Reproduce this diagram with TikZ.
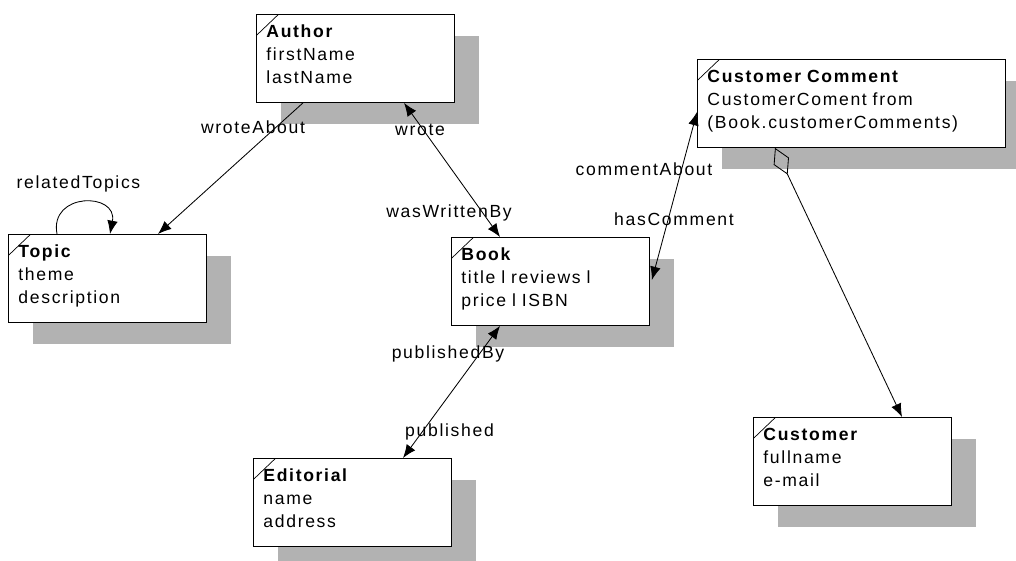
\documentclass[tikz,border=0pt]{standalone}
\usepackage{fontspec}
\setmainfont{Liberation Sans}[LetterSpace=9.5, WordSpace=1.5]
\usetikzlibrary{arrows.meta, shadows, calc}

\begin{document}
\begin{tikzpicture}[
    x=0.025cm, y=-0.025cm,
    font=\fontsize{12.5pt}{16.4pt}\selectfont,
    >={Latex[length=9.5pt,width=7.5pt]},
    class/.style  = {rectangle, draw, line width=0.6pt, fill=white,
                     anchor=north west, align=left,
                     text width=4.45cm, minimum width=4.95cm,
                     inner xsep=0.25cm, inner ysep=0.25cm,
                     text height=0.33cm, text depth=1.37cm,
                     drop shadow={shadow xshift=0.625cm, shadow yshift=-0.55cm,
                                  fill=black!30, opacity=1},
                     path picture={\draw[line width=0.5pt]
                       ($(path picture bounding box.north west)+(0,21)$) -- ++(22,-21);}},
    wideclass/.style = {class, text width=7.2cm, minimum width=7.7cm},
    link/.style   = {line width=0.6pt},
    lbl/.style    = {anchor=base, inner sep=0pt}
  ]
  \useasboundingbox (0,0) rectangle (1016,560);

  % ── Classes ─────────────────────────────────────────────────
  \node[class]     (author)      at (256,14)  {\textbf{Author}\\firstName\\lastName};
  \node[class]     (topic)       at (8,234)   {\textbf{Topic}\\theme\\description};
  \node[class]     (book)        at (451,237) {\textbf{Book}\\title l reviews l\\price l ISBN};
  \node[wideclass] (custcomment) at (697,59)  {\textbf{Customer Comment}\\CustomerComent from\\(Book.customerComments)};
  \node[class]     (editorial)   at (253,458) {\textbf{Editorial}\\name\\address};
  \node[class]     (customer)    at (753,417) {\textbf{Customer}\\fullname\\e-mail};

  % ── Associations ────────────────────────────────────────────

  % Topic self
  \draw[link, ->] ($(topic.north west)+(49,0)$) .. controls +(-8,-42) and +(8,-42) ..
    ($(topic.north west)+(102,0)$);

  % Author -> Topic
  \draw[link, ->] ($(author.south west)+(47,0)$) -- ($(topic.north west)+(150,0)$);

  % Author <-> Book
  \draw[link, <->] ($(author.south west)+(148,0)$) -- ($(book.north west)+(49,0)$);

  % Book <-> Customer Comment
  \draw[link, <->] ($(book.north east)+(2,43)$) -- ($(custcomment.north west)+(0,53)$);

  % Book <-> Editorial
  \draw[link, <->] ($(book.south west)+(49,0)$) -- ($(editorial.north west)+(150,0)$);

  % Customer Comment -> Customer (aggregation)
  \draw[link, {Diamond[open,length=21pt,width=12pt]}->]
    ($(custcomment.south west)+(78,0)$) -- ($(customer.north west)+(149,0)$);

  % ── Role names ──────────────────────────────────────────────
  \node[lbl] (reltopicslbl)    at (78.5,188) {relatedTopics};
  \node[lbl] (wroteaboutlbl)   at (253,133)  {wroteAbout};
  \node[lbl] (wrotelbl)        at (420,135)  {wrote};
  \node[lbl] (writtenbylbl)    at (449,217)  {wasWrittenBy};
  \node[lbl] (commentaboutlbl) at (644,175)  {commentAbout};
  \node[lbl] (hascommentlbl)   at (674,225)  {hasComment};
  \node[lbl] (publishedbylbl)  at (448,358)  {publishedBy};
  \node[lbl] (publishedlbl)    at (449.5,436) {published};

\end{tikzpicture}
\end{document}
